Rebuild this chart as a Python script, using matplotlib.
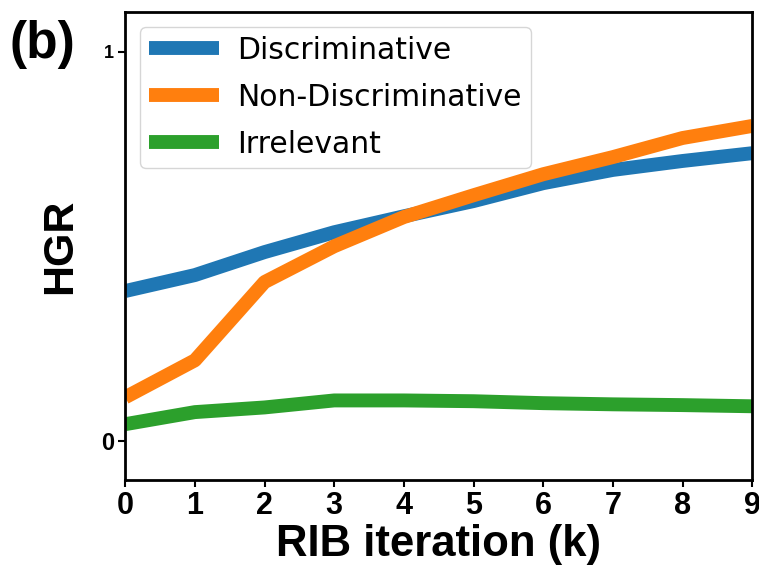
import matplotlib
matplotlib.use("Agg")
import matplotlib.pyplot as plt

iterations = [0, 1, 2, 3, 4, 5, 6, 7, 8, 9]
discriminative = [0.386, 0.427, 0.486, 0.537, 0.578, 0.617, 0.663, 0.697, 0.720, 0.740]
non_discriminative = [0.113, 0.208, 0.409, 0.501, 0.576, 0.632, 0.686, 0.730, 0.779, 0.810]
irrelevant = [0.044, 0.075, 0.087, 0.105, 0.105, 0.103, 0.098, 0.095, 0.093, 0.090]
series_names = ["Discriminative", "Non-Discriminative", "Irrelevant"]
colors = ["#1f77b4", "#ff7f0e", "#2ca02c"]

fig = plt.figure(figsize=(7.59, 5.65), dpi=100)
ax = fig.add_axes([0.165, 0.150, 0.826, 0.829])

for vals, name, c in zip([discriminative, non_discriminative, irrelevant], series_names, colors):
    ax.plot(iterations, vals, color=c, lw=10, label=name, solid_capstyle="butt")

ax.set_xlim(0, 9)
ax.set_ylim(-0.1, 1.103)
ax.set_xticks(iterations)
ax.set_yticks([0, 1])
bold = dict(family=["Liberation Sans", "DejaVu Sans"], weight="bold")
ax.set_xticklabels([str(i) for i in iterations], fontsize=22, **bold)
ax.set_yticklabels(["0", "1"], **bold)
ylabs = ax.get_yticklabels()
ylabs[0].set_fontsize(17)
ylabs[1].set_fontsize(13)
ax.tick_params(axis="both", length=5, width=1.5, pad=3)
for s in ax.spines.values():
    s.set_linewidth(2)

ax.set_xlabel("RIB iteration (k)", fontsize=31.5, labelpad=2, **bold)
ax.set_ylabel("HGR", fontsize=31, labelpad=15, **bold)

leg = ax.legend(loc="upper left", fontsize=21.5, handlelength=2.35, borderpad=0.3,
                labelspacing=0.6, handletextpad=0.6, borderaxespad=0.0,
                bbox_to_anchor=(0.024, 0.968))
leg.get_frame().set_linewidth(1)

fig.text(0.013, 0.897, "(b)", fontsize=37, va="baseline", **bold)

fig.savefig("out.png", dpi=100)
